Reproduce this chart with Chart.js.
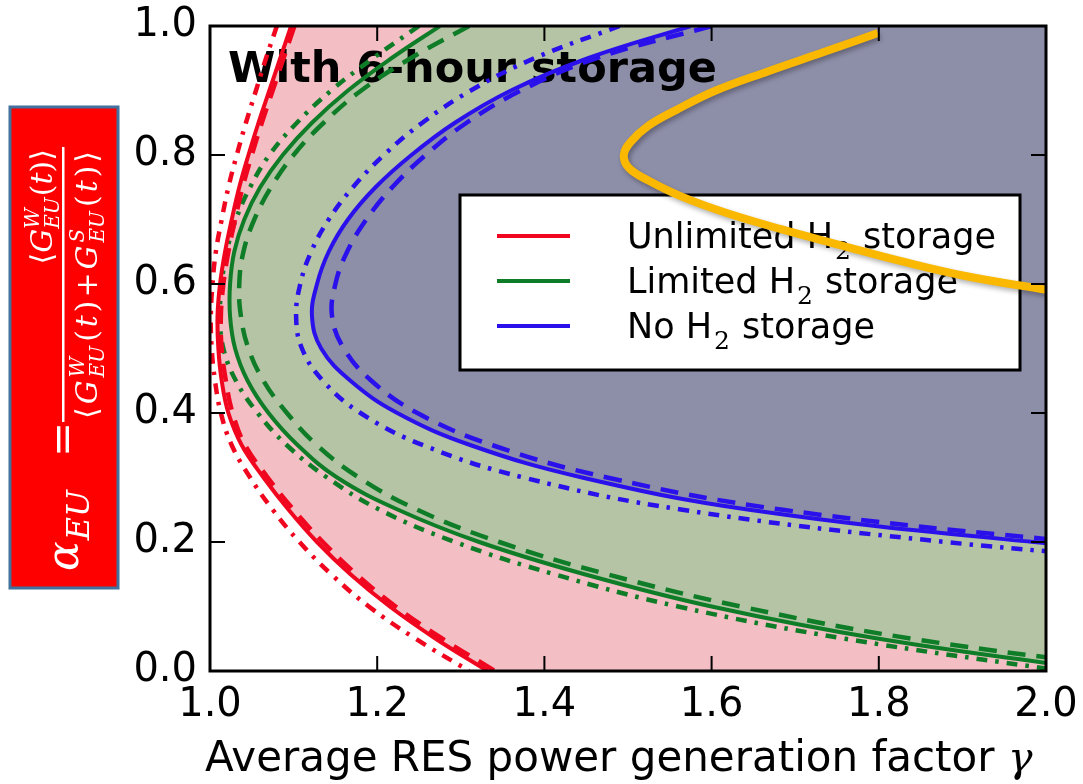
<!DOCTYPE html>
<html lang="en">
<head>
    <meta charset="utf-8">
    <title>With 6-hour storage</title>
    <script src="https://cdn.jsdelivr.net/npm/chart.js"></script>
    <style>
        html, body { margin: 0; padding: 0; background: #fff; }
        canvas { display: block; }
    </style>
</head>
<body>
<canvas id="myChart" width="1083" height="784"></canvas>
<script>
    // alpha_EU values at which the boundaries are sampled
    const alphaGrid = [1.0, 0.95, 0.9, 0.85, 0.8, 0.75, 0.7, 0.65, 0.6, 0.55, 0.5, 0.45, 0.4, 0.35, 0.3, 0.25, 0.2, 0.15, 0.1, 0.05, 0.0];
    const alphaBlue = [1.0, 0.95, 0.9, 0.85, 0.8, 0.75, 0.7, 0.65, 0.6, 0.55, 0.5, 0.45, 0.4, 0.35, 0.3, 0.25, 0.2, 0.17];

    // gamma on each boundary: solid / dashed / dash-dot variants
    const redSolid     = [1.097, 1.084, 1.071, 1.058, 1.046, 1.035, 1.026, 1.018, 1.012, 1.009, 1.010, 1.014, 1.022, 1.038, 1.064, 1.094, 1.128, 1.168, 1.215, 1.270, 1.332];
    const redDashed    = [1.101, 1.088, 1.075, 1.062, 1.050, 1.039, 1.030, 1.022, 1.016, 1.013, 1.014, 1.019, 1.027, 1.042, 1.069, 1.100, 1.135, 1.175, 1.222, 1.278, 1.341];
    const redDashDot   = [1.080, 1.067, 1.055, 1.043, 1.032, 1.022, 1.014, 1.007, 1.003, 1.001, 1.002, 1.006, 1.013, 1.026, 1.048, 1.075, 1.107, 1.145, 1.190, 1.246, 1.310];

    const greenSolid   = [1.275, 1.217, 1.165, 1.122, 1.087, 1.060, 1.041, 1.029, 1.024, 1.024, 1.030, 1.045, 1.070, 1.105, 1.152, 1.225, 1.322, 1.448, 1.600, 1.800, 2.070];
    const greenDashed  = [1.310, 1.240, 1.181, 1.136, 1.100, 1.073, 1.053, 1.040, 1.035, 1.037, 1.046, 1.064, 1.092, 1.128, 1.178, 1.248, 1.346, 1.475, 1.635, 1.840, 2.130];
    const greenDashDot = [1.250, 1.195, 1.145, 1.104, 1.071, 1.048, 1.031, 1.020, 1.014, 1.012, 1.016, 1.031, 1.057, 1.092, 1.140, 1.203, 1.293, 1.412, 1.560, 1.760, 2.020];

    const blueSolid    = [1.575, 1.452, 1.360, 1.293, 1.241, 1.198, 1.165, 1.142, 1.128, 1.122, 1.133, 1.168, 1.224, 1.312, 1.445, 1.645, 1.985, 2.280];
    const blueDashed   = [1.600, 1.462, 1.372, 1.307, 1.258, 1.218, 1.187, 1.164, 1.150, 1.146, 1.160, 1.193, 1.248, 1.338, 1.475, 1.685, 2.040, 2.350];
    const blueDashDot  = [1.490, 1.388, 1.312, 1.254, 1.208, 1.171, 1.142, 1.121, 1.108, 1.103, 1.110, 1.135, 1.180, 1.255, 1.375, 1.565, 1.880, 2.160];

    // overlaid yellow curve
    const goldAlpha = [0.989, 0.960, 0.930, 0.900, 0.870, 0.845, 0.820, 0.800, 0.780, 0.760, 0.735, 0.710, 0.685, 0.660, 0.635, 0.612, 0.591];
    const goldGamma = [1.799, 1.735, 1.668, 1.605, 1.558, 1.524, 1.503, 1.495, 1.501, 1.525, 1.565, 1.618, 1.683, 1.755, 1.828, 1.905, 2.000];

    const legendLabels = ['Unlimited H', 'Limited H', 'No H'];

    const RED = '#f0061e', GREEN = '#0f7d27', BLUE = '#2a10ea', GOLD = '#fbb800';
    const ZONE_PINK = '#f3bec4', ZONE_GREEN = '#b6c4a6', ZONE_GREY = '#8d8ea8';
    const DASH = [18, 11], DASHDOT = [11, 8, 3.5, 8];
    const SANS = '"DejaVu Sans", sans-serif';
    const SERIF = '"DejaVu Serif", "Liberation Serif", serif';

    function curve(gammas, alphas) {
        return gammas.map((g, i) => ({x: g, y: alphas[i]}));
    }

    function boundary(label, gammas, alphas, color, dash, width) {
        return {
            label: label,
            data: curve(gammas, alphas),
            borderColor: color,
            borderWidth: width,
            borderDash: dash,
            showLine: true,
            pointRadius: 0,
            tension: 0.4,
            fill: false,
        };
    }

    const datasets = [
        boundary('Unlimited H2 storage', redSolid, alphaGrid, RED, [], 4),
        boundary('Limited H2 storage', greenSolid, alphaGrid, GREEN, [], 4),
        boundary('No H2 storage', blueSolid, alphaBlue, BLUE, [], 4),
        boundary('', redDashed, alphaGrid, RED, DASH, 4.5),
        boundary('', greenDashed, alphaGrid, GREEN, DASH, 4.5),
        boundary('', blueDashed, alphaBlue, BLUE, DASH, 4.5),
        boundary('', redDashDot, alphaGrid, RED, DASHDOT, 4.5),
        boundary('', greenDashDot, alphaGrid, GREEN, DASHDOT, 4.5),
        boundary('', blueDashDot, alphaBlue, BLUE, DASHDOT, 4.5),
    ];
    const GOLD_INDEX = datasets.length;
    datasets.push({
        label: '',
        data: curve(goldGamma, goldAlpha),
        borderColor: GOLD,
        borderWidth: 8,
        showLine: true,
        pointRadius: 0,
        tension: 0.4,
        fill: false,
        order: -1,
    });

    // shade the area on one side of a boundary line, using the line's own path
    function shadeBeside(chart, index, side, color) {
        const {ctx, chartArea: a} = chart;
        const line = chart.getDatasetMeta(index).dataset;
        line.updateControlPoints(a, 'x');
        const pts = line.points;
        const first = pts[0], last = pts[pts.length - 1];
        const xs = pts.map(p => p.x);
        const edge = side === 'right' ? Math.max(a.right, ...xs) + 20 : Math.min(a.left, ...xs) - 20;
        ctx.beginPath();
        line.path(ctx);
        ctx.lineTo(edge, last.y);
        ctx.lineTo(edge, first.y);
        ctx.closePath();
        ctx.fillStyle = color;
        ctx.fill();
    }

    // text with an H2-style subscript: "<head>" + serif "2" + " storage"
    function subscriptLabel(ctx, head, x, y, size) {
        ctx.font = size + 'px ' + SANS;
        ctx.fillText(head, x, y);
        let pos = x + ctx.measureText(head).width + 2;
        ctx.font = Math.round(size * 0.7) + 'px ' + SERIF;
        ctx.fillText('2', pos, y + size * 0.3);
        pos += ctx.measureText('2').width + 1;
        ctx.font = size + 'px ' + SANS;
        ctx.fillText(' storage', pos, y);
    }

    const fillZones = {
        id: 'fillZones',
        beforeDatasetsDraw(chart) {
            const {ctx, chartArea: a} = chart;
            ctx.save();
            ctx.beginPath();
            ctx.rect(a.left, a.top, a.right - a.left, a.bottom - a.top);
            ctx.clip();
            ctx.fillStyle = ZONE_PINK;
            ctx.fillRect(a.left, a.top, a.right - a.left, a.bottom - a.top);
            shadeBeside(chart, 1, 'right', ZONE_GREEN);
            shadeBeside(chart, 2, 'right', ZONE_GREY);
            shadeBeside(chart, 0, 'left', '#ffffff');
            ctx.restore();

            // panel title
            ctx.save();
            ctx.fillStyle = '#000';
            ctx.font = 'bold 43px ' + SANS;
            ctx.fillText('With 6-hour storage', a.left + 18, a.top + 56);
            ctx.restore();

            // legend box
            ctx.save();
            ctx.fillStyle = '#fff';
            ctx.fillRect(460, 195, 560, 175);
            ctx.strokeStyle = '#000';
            ctx.lineWidth = 3;
            ctx.strokeRect(460, 195, 560, 175);
            const colors = [RED, GREEN, BLUE];
            colors.forEach((c, i) => {
                const yy = 236 + i * 45;
                ctx.strokeStyle = c;
                ctx.lineWidth = 4;
                ctx.beginPath();
                ctx.moveTo(497, yy);
                ctx.lineTo(570, yy);
                ctx.stroke();
                ctx.fillStyle = '#000';
                subscriptLabel(ctx, legendLabels[i], 627, yy + 12, 35);
            });
            ctx.restore();
        }
    };

    const frameTicks = {
        id: 'frameTicks',
        afterDatasetsDraw(chart) {
            const {ctx, chartArea: a, scales: {x, y}} = chart;
            ctx.save();
            ctx.strokeStyle = '#000';
            ctx.lineWidth = 2;
            ctx.beginPath();
            x.ticks.forEach(t => {
                const p = x.getPixelForValue(t.value);
                ctx.moveTo(p, a.bottom); ctx.lineTo(p, a.bottom - 15);
                ctx.moveTo(p, a.top); ctx.lineTo(p, a.top + 15);
            });
            y.ticks.forEach(t => {
                const p = y.getPixelForValue(t.value);
                ctx.moveTo(a.left, p); ctx.lineTo(a.left + 15, p);
                ctx.moveTo(a.right, p); ctx.lineTo(a.right - 15, p);
            });
            ctx.stroke();
            ctx.lineWidth = 3;
            ctx.strokeRect(a.left, a.top, a.right - a.left, a.bottom - a.top);
            ctx.restore();
        }
    };

    const goldShadow = {
        id: 'goldShadow',
        beforeDatasetDraw(chart, args) {
            if (args.index !== GOLD_INDEX) return;
            const ctx = chart.ctx;
            ctx.save();
            ctx.shadowColor = 'rgba(0, 0, 0, 0.3)';
            ctx.shadowBlur = 5;
            ctx.shadowOffsetX = 2;
            ctx.shadowOffsetY = 3;
        },
        afterDatasetDraw(chart, args) {
            if (args.index === GOLD_INDEX) chart.ctx.restore();
        }
    };

    // math runs laid along the rotated baseline; stack = [superscript, subscript]
    function mathRuns(ctx, items, u, w, size, extra, draw) {
        let pos = u;
        items.forEach((it, k) => {
            if (it.stack) {
                ctx.font = 'italic ' + Math.round(size * 0.68) + 'px ' + SERIF;
                const wa = ctx.measureText(it.stack[0]).width;
                const wb = ctx.measureText(it.stack[1]).width;
                if (draw) {
                    ctx.fillText(it.stack[0], pos, w - size * 0.45);
                    ctx.fillText(it.stack[1], pos, w + size * 0.22);
                }
                pos += Math.max(wa, wb) + size * 0.04;
            } else {
                ctx.font = (it.i ? 'italic ' : '') + size + 'px ' + SERIF;
                if (draw) ctx.fillText(it.t, pos, w);
                pos += ctx.measureText(it.t).width;
            }
            if (k < items.length - 1) pos += extra;
        });
        return pos - u;
    }

    const numerator = [
        {t: '\u27E8'}, {t: 'G', i: 1}, {stack: ['W', 'EU']}, {t: '('}, {t: 't', i: 1}, {t: ')'}, {t: '\u27E9'}
    ];
    const denominator = [
        {t: '\u27E8'}, {t: 'G', i: 1}, {stack: ['W', 'EU']}, {t: '('}, {t: 't', i: 1}, {t: ')'},
        {t: '+'},
        {t: 'G', i: 1}, {stack: ['S', 'EU']}, {t: '('}, {t: 't', i: 1}, {t: ')'}, {t: '\u27E9'}
    ];

    const sideNotes = {
        id: 'sideNotes',
        afterDraw(chart) {
            const ctx = chart.ctx;

            // x axis title with italic gamma
            ctx.save();
            ctx.fillStyle = '#000';
            ctx.font = '42px ' + SANS;
            const xt = 'Average RES power generation factor ';
            ctx.fillText(xt, 205, 771);
            const xw = ctx.measureText(xt).width;
            ctx.font = 'italic 41px ' + SERIF;
            ctx.fillText('\u03B3', 205 + xw, 771);
            ctx.restore();

            // red box with the alpha_EU definition
            ctx.save();
            ctx.fillStyle = '#ff0000';
            ctx.fillRect(10, 107, 108, 481);
            ctx.strokeStyle = '#41719c';
            ctx.lineWidth = 3;
            ctx.strokeRect(10, 107, 108, 481);

            ctx.translate(64, 347);
            ctx.rotate(-Math.PI / 2);
            ctx.fillStyle = '#fff';
            ctx.textBaseline = 'alphabetic';

            ctx.font = 'italic 44px ' + SERIF;
            ctx.fillText('\u03B1', -224, 14);
            const aw = ctx.measureText('\u03B1').width;
            ctx.font = 'italic 32px ' + SERIF;
            ctx.fillText('EU', -224 + aw + 1, 25);

            ctx.font = '42px ' + SERIF;
            ctx.fillText('=', -110, 13);

            // fraction bar
            ctx.fillRect(-75, -2, 275, 2.5);

            const size = 30;
            const numW = mathRuns(ctx, numerator, 0, 0, size, 0, false);
            mathRuns(ctx, numerator, 198 - numW, -12, size, 0, true);
            const denW = mathRuns(ctx, denominator, 0, 0, size, 0, false);
            const gap = (268 - denW) / (denominator.length - 1);
            mathRuns(ctx, denominator, -72, 33, size, gap, true);
            ctx.restore();
        }
    };

    const tickFont = {family: 'DejaVu Sans', size: 40};

    new Chart(document.getElementById('myChart'), {
        type: 'scatter',
        data: {datasets: datasets},
        options: {
            responsive: false,
            animation: false,
            devicePixelRatio: 1,
            events: [],
            layout: {padding: {left: 0, top: 26, right: 37, bottom: 0}},
            elements: {line: {capBezierPoints: false}},
            plugins: {
                legend: {display: false},
                tooltip: {enabled: false},
            },
            scales: {
                x: {
                    type: 'linear',
                    min: 1,
                    max: 2,
                    grid: {display: false, drawTicks: false},
                    border: {display: false},
                    ticks: {
                        stepSize: 0.2,
                        maxRotation: 0,
                        autoSkip: false,
                        padding: 11,
                        color: '#000',
                        font: tickFont,
                        callback: v => v.toFixed(1),
                    },
                    afterFit: scale => {
                        scale.height = 113;
                        scale.paddingLeft = 0;
                        scale.paddingRight = 0;
                    },
                },
                y: {
                    type: 'linear',
                    min: 0,
                    max: 1,
                    grid: {display: false, drawTicks: false},
                    border: {display: false},
                    ticks: {
                        stepSize: 0.2,
                        autoSkip: false,
                        padding: 13,
                        color: '#000',
                        font: tickFont,
                        callback: v => v.toFixed(1),
                    },
                    afterFit: scale => {
                        scale.width = 210;
                        scale.paddingTop = 0;
                        scale.paddingBottom = 0;
                    },
                },
            },
        },
        plugins: [fillZones, frameTicks, goldShadow, sideNotes],
    });
</script>
</body>
</html>
